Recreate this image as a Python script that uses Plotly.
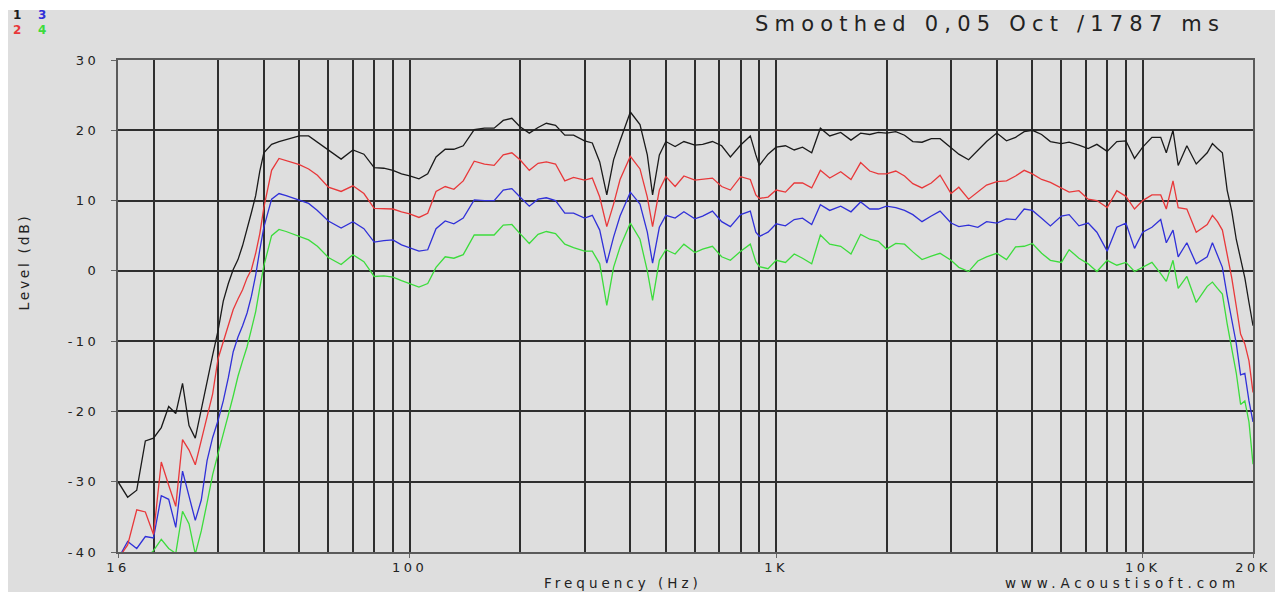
import plotly.graph_objects as go

# Frequency grid (Hz)
freq = [
    16, 17, 18, 19, 20, 21, 22, 23, 24, 25,
    26, 27, 28, 29, 30, 31, 32, 33, 34, 35,
    36, 37, 38, 39, 40, 42, 44, 46, 50, 53,
    56, 60, 65, 70, 75, 80, 85, 90, 95, 100,
    106, 112, 118, 125, 132, 140, 150, 160, 170, 180,
    190, 200, 212, 224, 236, 250, 265, 280, 300, 315,
    330, 345, 360, 375, 400, 425, 445, 460, 480, 500,
    530, 560, 600, 630, 670, 710, 750, 800, 850, 880,
    900, 950, 1000, 1060, 1120, 1180, 1250, 1320, 1400, 1500,
    1600, 1700, 1800, 1900, 2000, 2120, 2240, 2360, 2500, 2650,
    2800, 3000, 3150, 3350, 3550, 3750, 4000, 4250, 4500, 4750,
    5000, 5300, 5600, 6000, 6300, 6700, 7100, 7500, 8000, 8500,
    9000, 9500, 10000, 10600, 11200, 11600, 12100, 12500, 13200, 14000,
    15000, 15500, 16000, 16500, 17000, 17500, 18000, 18500, 19000, 19500, 20000,
]

# Level (dB) of the four measurements
level_1 = [
    -30, -32.2, -31.2, -24.2, -23.8, -22.3, -19.3, -20.3, -16.0, -22.0,
    -23.8, -19.5, -15.8, -12.0, -8.5, -4.3, -1.8, 0.2, 1.6, 3.6,
    6.2, 8.3, 10.7, 14.2, 16.8, 18.0, 18.4, 18.7, 19.2, 19.2,
    18.3, 17.1, 15.9, 17.2, 16.6, 14.7, 14.6, 14.3, 13.8, 13.5,
    13.1, 13.8, 16.2, 17.3, 17.3, 17.8, 20.1, 20.3, 20.3, 21.4,
    21.7, 20.5, 19.6, 20.4, 21.0, 20.7, 19.3, 19.3, 18.5, 18.2,
    15.5, 10.8, 15.8, 18.5, 22.6, 20.8, 16.5, 10.8, 16.5, 18.4,
    17.7, 18.4, 17.9, 18.0, 18.4, 17.8, 16.2, 17.9, 19.2, 16.5,
    15.0, 16.6, 17.6, 17.8, 17.2, 17.6, 16.8, 20.3, 19.2, 19.7,
    18.6, 19.6, 19.4, 19.7, 19.6, 19.8, 19.3, 18.4, 18.3, 18.8,
    18.8, 17.5, 16.6, 15.8, 17.2, 18.4, 19.6, 18.5, 19.0, 19.8,
    20.0, 19.4, 18.4, 18.1, 18.3, 17.9, 17.4, 18.0, 17.0, 18.4,
    18.5, 16.0, 17.6, 19.0, 19.0, 16.8, 20.0, 15.0, 17.8, 15.2,
    16.8, 18.1, 17.4, 16.8, 11.5, 8.5, 4.5, 1.5, -1.0, -4.5, -7.8,
]

level_2 = [
    -41, -39, -34, -34.3, -37.5, -27.2, -30.5, -33.5, -24.0, -25.5,
    -27.6, -24.1, -20.5, -17.5, -12.5, -10.0, -7.5, -5.5, -4.0, -2.7,
    -1.0, 0.2, 2.5, 5.3, 9.0, 14.3, 16.0, 15.7, 15.1, 14.5,
    13.6, 11.9, 11.3, 12.1, 11.0, 8.9, 8.9, 8.8, 8.4, 8.1,
    7.6, 8.2, 11.3, 12.0, 11.6, 12.8, 15.6, 15.2, 15.0, 16.5,
    16.8, 15.8, 14.3, 15.3, 15.5, 15.2, 12.8, 13.3, 12.9, 13.2,
    10.5, 6.3, 9.5, 13.0, 16.3, 14.5, 10.5, 6.3, 11.5, 13.4,
    12.0, 13.5, 12.9, 13.0, 13.2, 12.0, 11.5, 13.4, 13.0, 10.8,
    10.3, 10.5, 11.5, 11.2, 12.5, 12.5, 11.8, 14.3, 13.2, 14.1,
    13.0, 15.4, 14.2, 13.8, 13.8, 14.2, 13.5, 12.4, 11.8, 12.5,
    13.6, 11.0, 11.9, 10.2, 11.2, 12.2, 12.7, 12.8, 13.5, 14.3,
    13.8, 13.0, 12.6, 11.8, 11.2, 11.4, 10.2, 10.0, 9.0, 11.4,
    10.6, 8.8, 10.0, 10.8, 10.8, 8.8, 12.8, 9.0, 8.8, 5.5,
    6.6, 7.9, 7.0, 5.8, 2.3, -1.0, -5.0, -9.0, -10.4, -12.8, -17.3,
]

level_3 = [
    -41, -38.5, -39.5, -37.8, -38.0, -32.0, -32.5, -36.5, -28.5, -32.0,
    -35.5, -32.6, -27.0, -23.7, -21.3, -18.5, -15.2, -11.5, -9.4, -7.8,
    -6.0, -3.6, -0.6, 3.0, 6.2, 10.2, 11.0, 10.7, 10.1, 9.6,
    8.6, 7.1, 6.1, 7.0, 6.0, 4.1, 4.3, 4.4, 3.7, 3.3,
    2.8, 3.0, 6.0, 7.1, 6.7, 7.5, 10.1, 10.0, 10.0, 11.5,
    11.7, 10.5, 9.2, 10.2, 10.4, 10.0, 8.2, 8.2, 7.5, 7.9,
    5.8, 1.1, 4.8, 7.8, 11.2, 9.5, 5.5, 1.1, 6.2, 7.9,
    7.5, 8.4, 7.4, 7.8, 8.5, 7.0, 6.3, 8.0, 8.5, 5.5,
    4.9, 5.5, 6.7, 6.4, 7.3, 7.5, 6.6, 9.4, 8.6, 9.2,
    8.4, 9.8, 8.8, 8.8, 9.2, 9.0, 8.6, 8.0, 7.0, 7.8,
    8.5, 6.8, 6.3, 6.5, 6.2, 7.0, 6.8, 7.4, 7.3, 8.8,
    8.6, 7.5, 6.4, 7.8, 8.0, 6.4, 6.8, 5.5, 2.8, 6.2,
    6.8, 3.2, 5.5, 6.2, 7.3, 4.0, 5.8, 2.0, 4.0, 1.0,
    2.0, 4.0, 2.2, 0.5, -3.5, -7.0, -10.3, -14.8, -14.6, -18.5, -21.5,
]

level_4 = [
    -41, -41, -41, -41, -39.8, -38.2, -39.5, -40.2, -34.2, -36.0,
    -40.3, -37.0, -33.0, -29.0, -26.0, -23.0, -20.5, -17.8, -15.0, -12.8,
    -10.8, -8.3, -5.8, -2.4, 0.7, 5.0, 5.9, 5.6, 4.9, 4.4,
    3.5, 1.9, 0.9, 2.3, 1.3, -0.8, -0.7, -0.9, -1.4, -1.8,
    -2.3, -1.8, 0.5, 2.0, 1.8, 2.3, 5.1, 5.1, 5.1, 6.5,
    6.6, 5.3, 3.9, 5.2, 5.6, 5.3, 3.8, 3.3, 2.8, 2.8,
    1.0, -4.9, 0.5, 3.4, 6.8, 4.5, 0.0, -4.2, 1.5, 3.0,
    2.4, 3.8, 2.6, 3.1, 3.5, 2.0, 1.5, 2.8, 3.8, 1.3,
    0.6, 0.3, 1.5, 1.2, 2.4, 1.8, 1.0, 5.1, 3.8, 3.5,
    2.4, 5.2, 4.5, 4.2, 3.1, 3.9, 3.8, 2.7, 1.6, 2.1,
    2.5, 1.5, 0.5, -0.1, 1.4, 2.0, 2.5, 1.6, 3.4, 3.5,
    3.9, 2.5, 1.5, 1.2, 3.0, 1.8, 1.0, -0.1, 1.5, 0.8,
    1.2, -0.1, 0.5, 1.2, -0.4, -1.5, 1.5, -2.5, -0.8, -4.5,
    -2.2, -1.6, -2.5, -3.3, -7.5, -11.0, -14.5, -19.0, -18.5, -21.5, -27.5,
]

series_names = ["1", "2", "3", "4"]
series_colors = ["#1a1a1a", "#e8383a", "#3030d8", "#3cdc3c"]
series_levels = [level_1, level_2, level_3, level_4]

x_tick_vals = [16, 100, 1000, 10000, 20000]
x_tick_labels = ["16", "100", "1K", "10K", "20K"]
x_grid_vals = [20, 30, 40, 50, 60, 70, 80, 90,
               200, 300, 400, 500, 600, 700, 800, 900,
               2000, 3000, 4000, 5000, 6000, 7000, 8000, 9000]
y_tick_vals = [-40, -30, -20, -10, 0, 10, 20, 30]
y_tick_labels = ["-40", "-30", "-20", "-10", "0", "10", "20", "30"]

BG = "#dedede"
GRID = "#2e2e2e"
FONT = "DejaVu Sans"
TXT = "#222222"


def spaced(s, px):
    return '<span style="letter-spacing:%spx">%s</span>' % (px, s)


# page body has an 8px margin: figure occupies page pixels 8..1283 x 8..592
OFF = 8
W, H = 1283 - OFF, 592 - OFF
PL, PR, PT, PB = 118, 1258, 60, 552   # plot box in page pixels
PW, PH = PR - PL, PB - PT


def px(x):
    return (x - PL) / PW


def py(y):
    return (PB - y) / PH


fig = go.Figure()
for name, ys, col in zip(reversed(series_names), reversed(series_levels), reversed(series_colors)):
    fig.add_trace(go.Scatter(x=freq, y=ys, mode="lines", name=name,
                             line=dict(color=col, width=1.3), showlegend=False))

fig.update_layout(
    width=W, height=H,
    margin=dict(l=PL - OFF, r=1283 - PR, t=PT - OFF, b=592 - PB),
    paper_bgcolor=BG,
    plot_bgcolor=BG,
    font=dict(family=FONT, color=TXT, size=12),
    xaxis=dict(
        type="log", range=[1.20412, 4.30103],
        tickvals=x_tick_vals, ticktext=[spaced(t, 3.5) for t in x_tick_labels],
        showgrid=True, gridcolor=GRID, gridwidth=1.5,
        ticks="outside", ticklen=4, tickcolor="#666666",
        ticklabelstandoff=-2,
        showline=True, mirror=True, linecolor="#5a5a5a", linewidth=2,
        zeroline=False,
        tickfont=dict(family=FONT, size=13, color=TXT),
        minor=dict(tickmode="array", tickvals=x_grid_vals, showgrid=True,
                   gridcolor=GRID, gridwidth=1.5, ticks=""),
    ),
    yaxis=dict(
        range=[-40, 30], tickvals=y_tick_vals,
        ticktext=[spaced(t, 3.5) for t in y_tick_labels],
        showgrid=True, gridcolor=GRID, gridwidth=1.5,
        ticks="outside", ticklen=5, tickcolor="#666666",
        ticklabelstandoff=9,
        showline=True, mirror=True, linecolor="#5a5a5a", linewidth=2,
        zeroline=False,
        tickfont=dict(family=FONT, size=13, color=TXT),
    ),
)

# white strip along the top of the picture
fig.add_shape(type="rect", xref="paper", yref="paper", layer="below",
              x0=px(0), x1=px(1283), y0=py(10), y1=py(0),
              fillcolor="white", line=dict(width=0))

ann = []
ann.append(dict(text=spaced("Smoothed 0,05 Oct /1787 ms", 6.2),
                x=px(1232), y=py(24), xanchor="right", yanchor="middle",
                font=dict(family=FONT, size=21, color=TXT)))
ann.append(dict(text=spaced("Frequency (Hz)", 4),
                x=px(625), y=py(583), xanchor="center", yanchor="middle",
                font=dict(family=FONT, size=13.5, color=TXT)))
ann.append(dict(text=spaced("www.Acoustisoft.com", 4.8),
                x=px(1127), y=py(583), xanchor="center", yanchor="middle",
                font=dict(family=FONT, size=13.5, color=TXT)))
ann.append(dict(text=spaced("Level (dB)", 2.6), textangle=-90,
                x=px(24), y=py(262), xanchor="center", yanchor="middle",
                font=dict(family=FONT, size=14, color=TXT)))
legend_pos = [(17, 15), (17, 30), (42, 15), (42, 30)]
for name, col, (lx, ly) in zip(series_names, series_colors, legend_pos):
    ann.append(dict(text="<b>" + name + "</b>", x=px(lx), y=py(ly),
                    xanchor="center", yanchor="middle",
                    font=dict(family=FONT, size=12, color=col)))
for a in ann:
    a.update(xref="paper", yref="paper", showarrow=False)
    fig.add_annotation(**a)

fig.write_html("out.html")
